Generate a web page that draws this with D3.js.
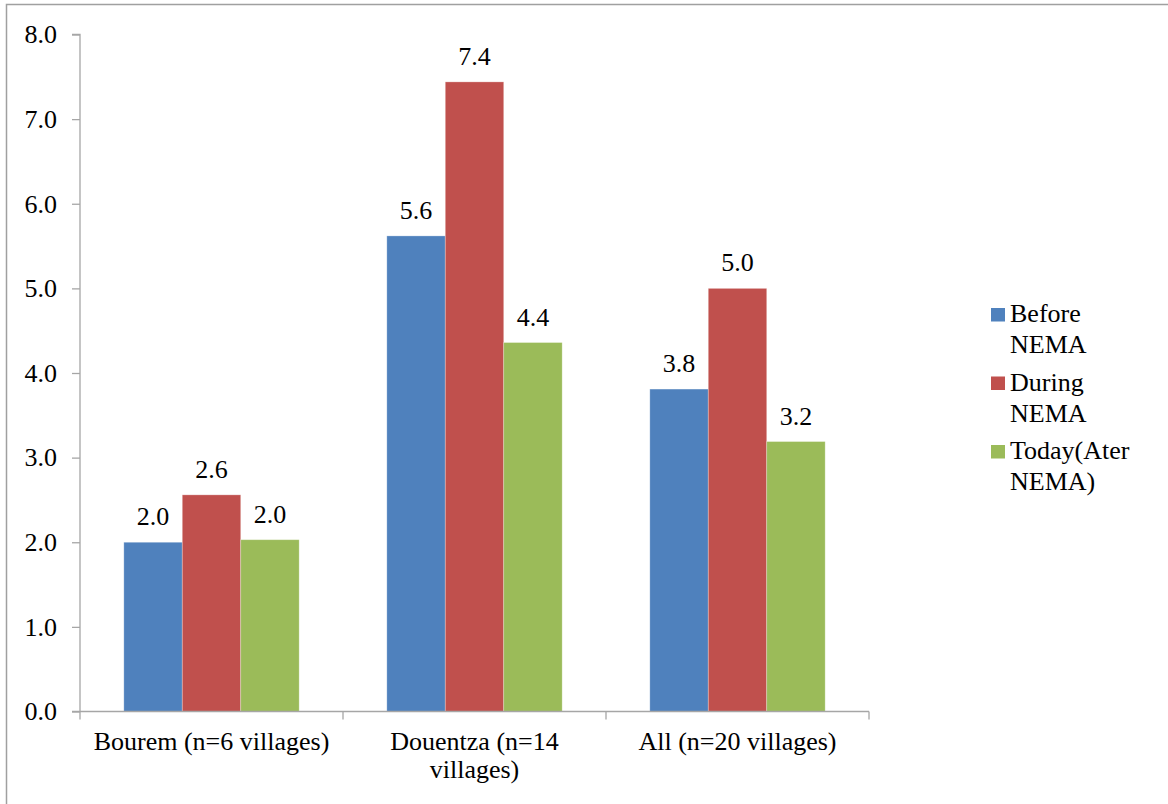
<!DOCTYPE html>
<html>
<head>
<meta charset="utf-8">
<script src="https://cdn.jsdelivr.net/npm/d3@7"></script>
<style>
  html, body { margin: 0; padding: 0; background: #fff; }
  svg text { font-family: "Liberation Serif", "Tinos", "Times New Roman", Times, "DejaVu Serif", serif; }
</style>
</head>
<body>
<svg id="chart" width="1168" height="804"></svg>
<script>
// Average number per village, by zone and period
const categories = ["Bourem (n=6 villages)", "Douentza (n=14 villages)", "All (n=20 villages)"];
const seriesNames = ["Before NEMA", "During NEMA", "Today(Ater NEMA)"];
const legendLines = [["Before", "NEMA"], ["During", "NEMA"], ["Today(Ater", "NEMA)"]];
const beforeValues = [2.00, 5.62, 3.81];
const duringValues = [2.56, 7.44, 5.00];
const todayValues  = [2.03, 4.36, 3.19];
const yTicks = [0, 1, 2, 3, 4, 5, 6, 7, 8];
const colors = ["#4F81BD", "#C0504D", "#9BBB59"];

const seriesValues = [beforeValues, duringValues, todayValues];
const rows = [];
categories.forEach((c, i) => {
  seriesNames.forEach((s, j) => rows.push({ category: c, series: s, value: seriesValues[j][i], color: colors[j] }));
});

const svg = d3.select("#chart");
const fontSize = 26;
const axisColor = "#a6a6a6";

// chart area frame
svg.append("rect")
  .attr("x", 6.5).attr("y", 4.5)
  .attr("width", 1200).attr("height", 900)
  .attr("fill", "none").attr("stroke", "#a0a0a0").attr("stroke-width", 1.5);

const plot = { left: 80, right: 869, top: 34.5, bottom: 711.5 };

const x = d3.scaleBand().domain(categories).range([plot.left, plot.right]).paddingInner(0).paddingOuter(0);
const xs = d3.scaleBand().domain(seriesNames).range([0, x.bandwidth()]).paddingInner(0).paddingOuter(0.75);
const y = d3.scaleLinear().domain([0, 8]).range([plot.bottom, plot.top]);

// bars
svg.append("g").selectAll("rect").data(rows).join("rect")
  .attr("x", d => x(d.category) + xs(d.series))
  .attr("y", d => y(d.value))
  .attr("width", xs.bandwidth())
  .attr("height", d => y(0) - y(d.value))
  .attr("fill", d => d.color)
  .attr("stroke", "rgba(255,255,255,0.35)")
  .attr("stroke-width", 0.8);

// value labels
svg.append("g").selectAll("text").data(rows).join("text")
  .attr("x", d => x(d.category) + xs(d.series) + xs.bandwidth() / 2)
  .attr("y", d => y(d.value) - 17)
  .attr("text-anchor", "middle")
  .attr("font-size", fontSize)
  .attr("fill", "#000")
  .text(d => d3.format(".1f")(d.value));

// y axis
const yAxis = svg.append("g")
  .attr("transform", `translate(${plot.left},0)`)
  .call(d3.axisLeft(y).tickValues(yTicks).tickFormat(d3.format(".1f")).tickSize(8).tickPadding(15));
yAxis.attr("font-family", null);
yAxis.select(".domain").attr("stroke", axisColor).attr("stroke-width", 1.3)
  .attr("d", `M-8,${plot.top}H0V${plot.bottom}`);
yAxis.selectAll(".tick line").attr("stroke", axisColor).attr("stroke-width", 1.3);
yAxis.selectAll(".tick text").attr("font-size", fontSize).attr("fill", "#000");

// x axis line with ticks at category boundaries
const xAxis = svg.append("g");
xAxis.append("line")
  .attr("x1", plot.left - 8).attr("x2", plot.right)
  .attr("y1", plot.bottom).attr("y2", plot.bottom)
  .attr("stroke", axisColor).attr("stroke-width", 1.3);
const bounds = categories.map(c => x(c)).concat([x(categories[categories.length - 1]) + x.bandwidth()]);
xAxis.selectAll("line.tk").data(bounds).join("line")
  .attr("class", "tk")
  .attr("x1", d => d).attr("x2", d => d)
  .attr("y1", plot.bottom).attr("y2", plot.bottom + 8)
  .attr("stroke", axisColor).attr("stroke-width", 1.3);

// category labels, wrapped to the band width
const catLabels = xAxis.selectAll("text.cat").data(categories).join("text")
  .attr("class", "cat")
  .attr("text-anchor", "middle")
  .attr("font-size", fontSize)
  .attr("fill", "#000");
catLabels.each(function (d) {
  const t = d3.select(this);
  const cx = x(d) + x.bandwidth() / 2;
  const words = d.split(" ");
  const maxW = x.bandwidth() - 10;
  let lines = [], cur = [];
  const probe = t.append("tspan");
  words.forEach(w => {
    const trial = cur.concat([w]).join(" ");
    probe.text(trial);
    if (probe.node().getComputedTextLength() > maxW && cur.length) {
      lines.push(cur.join(" "));
      cur = [w];
    } else {
      cur.push(w);
    }
  });
  lines.push(cur.join(" "));
  probe.remove();
  lines.forEach((ln, i) => {
    t.append("tspan").attr("x", cx).attr("y", 750 + i * 28).text(ln);
  });
});

// legend
const legend = svg.append("g");
seriesNames.forEach((s, i) => {
  const base = 322 + i * 68.5;
  legend.append("rect")
    .attr("x", 991).attr("y", base - 14)
    .attr("width", 14).attr("height", 13.5)
    .attr("fill", colors[i]);
  const t = legend.append("text").attr("font-size", fontSize).attr("fill", "#000");
  legendLines[i].forEach((ln, k) => {
    t.append("tspan").attr("x", 1010).attr("y", base + k * 31).text(ln);
  });
});
</script>
</body>
</html>
